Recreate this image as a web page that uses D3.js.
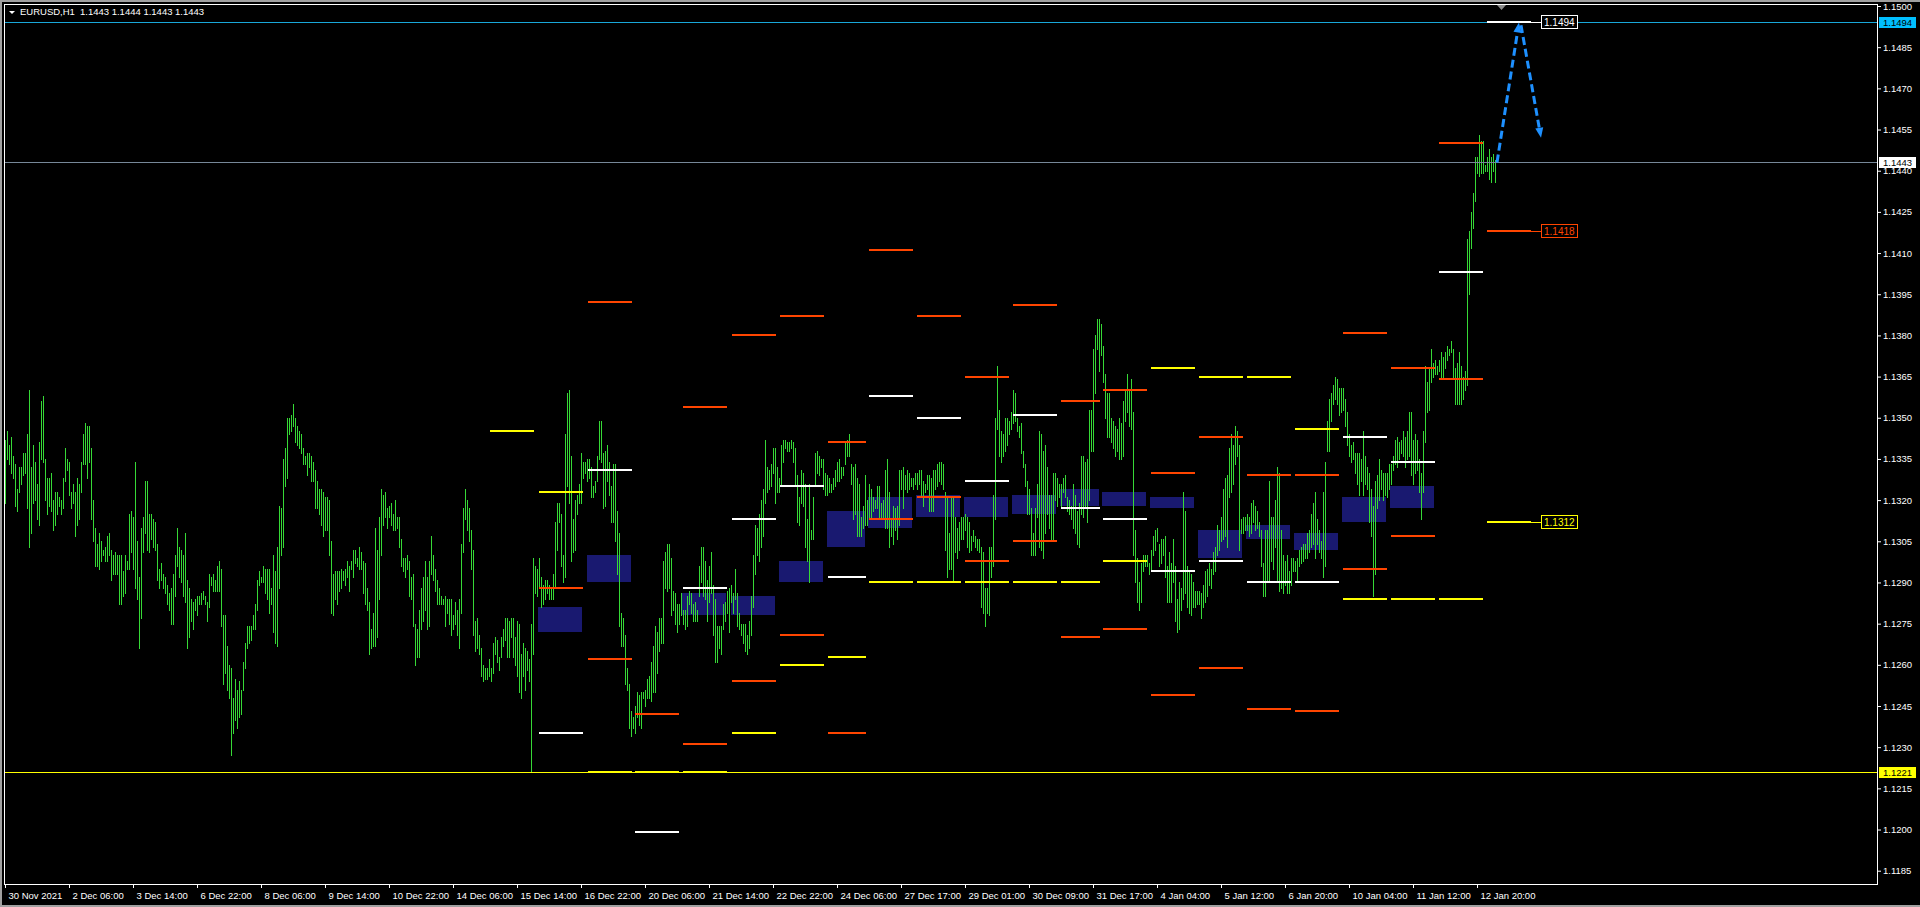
<!DOCTYPE html>
<html><head><meta charset="utf-8">
<script src="https://cdn.jsdelivr.net/npm/d3@7"></script>
<style>html,body{margin:0;padding:0;background:#000;overflow:hidden}svg{display:block}</style>
</head><body><svg id="chart" width="1920" height="907"></svg>
<script>
// ---------- DATA ----------
const symbolTitle = "EURUSD,H1";
const lastQuote = "1.1443 1.1444 1.1443 1.1443";

const xTickBars = [0,32,64,96,128,160,192,224,256,288,320,352,384,416,448,480,512,544,576,608,640,672,704,736];
const xTickLabels = ["30 Nov 2021","2 Dec 06:00","3 Dec 14:00","6 Dec 22:00","8 Dec 06:00","9 Dec 14:00","10 Dec 22:00","14 Dec 06:00","15 Dec 14:00","16 Dec 22:00","20 Dec 06:00","21 Dec 14:00","22 Dec 22:00","24 Dec 06:00","27 Dec 17:00","29 Dec 01:00","30 Dec 09:00","31 Dec 17:00","4 Jan 04:00","5 Jan 12:00","6 Jan 20:00","10 Jan 04:00","11 Jan 12:00","12 Jan 20:00"];
const yTicks = [1.1185,1.1200,1.1215,1.1230,1.1245,1.1260,1.1275,1.1290,1.1305,1.1320,1.1335,1.1350,1.1365,1.1380,1.1395,1.1410,1.1425,1.1440,1.1455,1.1470,1.1485,1.1500];

// hourly bar highs / lows
const highs = [
1.1342,1.1345,1.1340,1.1343,1.1336,1.1333,1.1324,1.1332,1.1332,1.1337,
1.1337,1.1344,1.1360,1.1332,1.1340,1.1334,1.1326,1.1341,1.1356,1.1358,
1.1335,1.1328,1.1328,1.1330,1.1320,1.1323,1.1323,1.1321,1.1320,1.1328,
1.1339,1.1335,1.1334,1.1323,1.1326,1.1323,1.1328,1.1326,1.1334,1.1344,
1.1348,1.1347,1.1347,1.1339,1.1320,1.1310,1.1304,1.1308,1.1305,1.1302,
1.1303,1.1307,1.1308,1.1302,1.1300,1.1301,1.1300,1.1300,1.1300,1.1294,
1.1300,1.1298,1.1315,1.1316,1.1314,1.1334,1.1305,1.1292,1.1310,1.1314,
1.1327,1.1327,1.1315,1.1315,1.1313,1.1312,1.1304,1.1295,1.1297,1.1293,
1.1292,1.1289,1.1286,1.1288,1.1293,1.1300,1.1310,1.1303,1.1302,1.1300,
1.1308,1.1291,1.1288,1.1284,1.1283,1.1284,1.1285,1.1285,1.1286,1.1287,
1.1285,1.1283,1.1293,1.1292,1.1293,1.1291,1.1296,1.1298,1.1295,1.1278,
1.1278,1.1267,1.1260,1.1259,1.1248,1.1255,1.1251,1.1254,1.1251,1.1261,
1.1268,1.1274,1.1274,1.1274,1.1278,1.1282,1.1291,1.1294,1.1292,1.1296,
1.1295,1.1295,1.1295,1.1288,1.1300,1.1294,1.1303,1.1318,1.1317,1.1335,
1.1339,1.1350,1.1350,1.1351,1.1355,1.1350,1.1347,1.1345,1.1344,1.1339,
1.1336,1.1337,1.1337,1.1336,1.1334,1.1331,1.1327,1.1324,1.1324,1.1323,
1.1321,1.1321,1.1320,1.1305,1.1293,1.1294,1.1294,1.1294,1.1295,1.1294,
1.1295,1.1298,1.1296,1.1298,1.1302,1.1302,1.1299,1.1303,1.1301,1.1298,
1.1297,1.1288,1.1283,1.1273,1.1279,1.1310,1.1302,1.1314,1.1324,1.1322,
1.1323,1.1317,1.1318,1.1319,1.1315,1.1320,1.1314,1.1314,1.1306,1.1299,
1.1299,1.1300,1.1298,1.1292,1.1293,1.1275,1.1273,1.1280,1.1288,1.1292,
1.1298,1.1292,1.1298,1.1307,1.1300,1.1295,1.1291,1.1288,1.1285,1.1284,
1.1285,1.1284,1.1284,1.1284,1.1278,1.1283,1.1280,1.1284,1.1304,1.1317,
1.1324,1.1320,1.1317,1.1309,1.1302,1.1276,1.1277,1.1271,1.1266,1.1260,
1.1259,1.1259,1.1262,1.1259,1.1268,1.1270,1.1269,1.1263,1.1270,1.1273,
1.1277,1.1277,1.1276,1.1277,1.1277,1.1270,1.1276,1.1275,1.1264,1.1268,
1.1266,1.1265,1.1262,1.1275,1.1299,1.1296,1.1295,1.1299,1.1292,1.1289,
1.1291,1.1291,1.1289,1.1288,1.1293,1.1312,1.1319,1.1319,1.1315,1.1300,
1.1344,1.1359,1.1360,1.1336,1.1313,1.1320,1.1322,1.1326,1.1337,1.1334,
1.1334,1.1335,1.1335,1.1332,1.1325,1.1327,1.1336,1.1349,1.1349,1.1337,
1.1338,1.1340,1.1334,1.1325,1.1333,1.1333,1.1316,1.1308,1.1279,1.1277,
1.1271,1.1259,1.1253,1.1243,1.1241,1.1245,1.1250,1.1249,1.1250,1.1250,
1.1251,1.1255,1.1256,1.1261,1.1267,1.1274,1.1272,1.1277,1.1277,1.1298,
1.1301,1.1304,1.1304,1.1299,1.1287,1.1286,1.1282,1.1282,1.1286,1.1280,
1.1280,1.1285,1.1287,1.1286,1.1282,1.1283,1.1280,1.1296,1.1303,1.1303,
1.1298,1.1291,1.1296,1.1301,1.1289,1.1284,1.1274,1.1274,1.1274,1.1282,
1.1283,1.1287,1.1288,1.1289,1.1286,1.1295,1.1286,1.1279,1.1275,1.1275,
1.1275,1.1271,1.1276,1.1285,1.1300,1.1311,1.1310,1.1315,1.1320,1.1324,
1.1342,1.1332,1.1331,1.1333,1.1339,1.1339,1.1332,1.1328,1.1340,1.1342,
1.1342,1.1341,1.1341,1.1342,1.1341,1.1339,1.1329,1.1321,1.1331,1.1330,
1.1326,1.1313,1.1326,1.1309,1.1321,1.1337,1.1338,1.1336,1.1335,1.1335,
1.1330,1.1329,1.1328,1.1326,1.1328,1.1331,1.1334,1.1335,1.1332,1.1332,
1.1341,1.1342,1.1344,1.1333,1.1332,1.1333,1.1328,1.1326,1.1314,1.1318,
1.1329,1.1320,1.1326,1.1324,1.1321,1.1320,1.1325,1.1325,1.1319,1.1320,
1.1331,1.1335,1.1323,1.1313,1.1318,1.1317,1.1318,1.1331,1.1331,1.1332,
1.1329,1.1331,1.1330,1.1328,1.1328,1.1330,1.1330,1.1331,1.1331,1.1327,
1.1326,1.1329,1.1329,1.1328,1.1331,1.1331,1.1333,1.1334,1.1334,1.1333,
1.1323,1.1321,1.1308,1.1321,1.1321,1.1314,1.1310,1.1312,1.1314,1.1314,
1.1315,1.1314,1.1312,1.1307,1.1309,1.1307,1.1306,1.1306,1.1303,1.1301,
1.1288,1.1288,1.1303,1.1303,1.1322,1.1350,1.1369,1.1353,1.1345,1.1344,
1.1350,1.1350,1.1349,1.1352,1.1360,1.1359,1.1350,1.1347,1.1348,1.1338,
1.1333,1.1327,1.1324,1.1317,1.1308,1.1317,1.1326,1.1345,1.1344,1.1338,
1.1340,1.1332,1.1322,1.1322,1.1330,1.1330,1.1328,1.1326,1.1326,1.1328,
1.1329,1.1321,1.1320,1.1318,1.1326,1.1322,1.1316,1.1319,1.1336,1.1336,
1.1334,1.1335,1.1353,1.1353,1.1375,1.1380,1.1386,1.1386,1.1384,1.1376,
1.1366,1.1359,1.1359,1.1350,1.1349,1.1347,1.1346,1.1350,1.1348,1.1356,
1.1360,1.1366,1.1360,1.1364,1.1352,1.1309,1.1299,1.1290,1.1297,1.1300,
1.1300,1.1300,1.1297,1.1302,1.1307,1.1309,1.1310,1.1304,1.1306,1.1306,
1.1307,1.1296,1.1301,1.1297,1.1306,1.1296,1.1284,1.1290,1.1288,1.1323,
1.1316,1.1296,1.1294,1.1293,1.1290,1.1287,1.1287,1.1287,1.1286,1.1289,
1.1294,1.1295,1.1297,1.1295,1.1301,1.1303,1.1311,1.1309,1.1314,1.1324,
1.1328,1.1329,1.1339,1.1344,1.1340,1.1347,1.1345,1.1340,1.1313,1.1314,
1.1314,1.1315,1.1314,1.1319,1.1320,1.1318,1.1316,1.1312,1.1309,1.1297,
1.1309,1.1309,1.1327,1.1314,1.1314,1.1320,1.1332,1.1330,1.1309,1.1300,
1.1298,1.1300,1.1294,1.1299,1.1299,1.1298,1.1299,1.1302,1.1303,1.1304,
1.1304,1.1308,1.1309,1.1315,1.1319,1.1323,1.1313,1.1309,1.1305,1.1323,
1.1334,1.1349,1.1357,1.1359,1.1362,1.1365,1.1364,1.1361,1.1361,1.1361,
1.1357,1.1352,1.1344,1.1340,1.1341,1.1337,1.1337,1.1337,1.1335,1.1345,
1.1336,1.1332,1.1330,1.1324,1.1318,1.1327,1.1329,1.1335,1.1331,1.1330,
1.1330,1.1330,1.1333,1.1333,1.1336,1.1342,1.1343,1.1341,1.1342,1.1345,
1.1343,1.1345,1.1352,1.1352,1.1342,1.1344,1.1342,1.1335,1.1330,1.1345,
1.1369,1.1363,1.1368,1.1375,1.1370,1.1371,1.1369,1.1371,1.1374,1.1372,
1.1374,1.1376,1.1375,1.1378,1.1375,1.1368,1.1370,1.1374,1.1369,1.1365,
1.1367,1.1415,1.1418,1.1425,1.1432,1.1445,1.1445,1.1453,1.1451,1.1451,
1.1442,1.1445,1.1448,1.1445,1.1446,1.1444];

const lows = [
1.1319,1.1335,1.1333,1.1330,1.1328,1.1318,1.1316,1.1323,1.1326,1.1329,
1.1330,1.1317,1.1303,1.1308,1.1319,1.1320,1.1313,1.1311,1.1335,1.1334,
1.1320,1.1315,1.1318,1.1316,1.1309,1.1311,1.1315,1.1318,1.1315,1.1317,
1.1327,1.1331,1.1322,1.1317,1.1319,1.1307,1.1311,1.1313,1.1323,1.1333,
1.1333,1.1328,1.1334,1.1313,1.1305,1.1296,1.1296,1.1295,1.1298,1.1300,
1.1298,1.1298,1.1300,1.1291,1.1293,1.1293,1.1293,1.1282,1.1282,1.1285,
1.1286,1.1295,1.1295,1.1301,1.1295,1.1288,1.1284,1.1266,1.1277,1.1301,
1.1308,1.1302,1.1301,1.1306,1.1303,1.1302,1.1291,1.1288,1.1291,1.1288,
1.1286,1.1282,1.1280,1.1275,1.1275,1.1285,1.1296,1.1292,1.1290,1.1285,
1.1283,1.1266,1.1270,1.1276,1.1273,1.1280,1.1278,1.1282,1.1282,1.1284,
1.1282,1.1276,1.1281,1.1289,1.1287,1.1287,1.1287,1.1287,1.1274,1.1253,
1.1257,1.1251,1.1248,1.1227,1.1235,1.1240,1.1237,1.1241,1.1242,1.1251,
1.1259,1.1266,1.1268,1.1269,1.1273,1.1273,1.1280,1.1289,1.1290,1.1290,
1.1286,1.1284,1.1279,1.1282,1.1272,1.1268,1.1267,1.1288,1.1300,1.1303,
1.1325,1.1328,1.1344,1.1345,1.1347,1.1341,1.1340,1.1339,1.1337,1.1333,
1.1333,1.1329,1.1332,1.1327,1.1327,1.1317,1.1317,1.1315,1.1311,1.1307,
1.1309,1.1309,1.1300,1.1279,1.1278,1.1284,1.1282,1.1287,1.1288,1.1291,
1.1289,1.1292,1.1287,1.1295,1.1292,1.1297,1.1296,1.1295,1.1295,1.1286,
1.1282,1.1280,1.1264,1.1266,1.1267,1.1267,1.1270,1.1284,1.1300,1.1311,
1.1314,1.1310,1.1314,1.1311,1.1309,1.1309,1.1310,1.1303,1.1296,1.1294,
1.1292,1.1295,1.1285,1.1284,1.1274,1.1260,1.1263,1.1263,1.1273,1.1276,
1.1280,1.1273,1.1274,1.1293,1.1291,1.1287,1.1282,1.1282,1.1282,1.1282,
1.1274,1.1279,1.1275,1.1271,1.1273,1.1275,1.1271,1.1266,1.1279,1.1301,
1.1313,1.1309,1.1305,1.1295,1.1271,1.1265,1.1266,1.1264,1.1256,1.1254,
1.1255,1.1255,1.1256,1.1254,1.1257,1.1264,1.1261,1.1258,1.1263,1.1267,
1.1269,1.1263,1.1263,1.1270,1.1263,1.1260,1.1256,1.1250,1.1248,1.1256,
1.1251,1.1258,1.1254,1.1221,1.1264,1.1286,1.1285,1.1288,1.1281,1.1282,
1.1284,1.1286,1.1284,1.1284,1.1284,1.1288,1.1302,1.1312,1.1296,1.1290,
1.1292,1.1325,1.1319,1.1298,1.1301,1.1302,1.1315,1.1319,1.1319,1.1328,
1.1330,1.1327,1.1328,1.1321,1.1321,1.1323,1.1327,1.1335,1.1334,1.1317,
1.1318,1.1327,1.1322,1.1312,1.1312,1.1305,1.1293,1.1274,1.1267,1.1267,
1.1253,1.1251,1.1237,1.1234,1.1237,1.1235,1.1241,1.1238,1.1237,1.1248,
1.1245,1.1248,1.1248,1.1247,1.1250,1.1250,1.1257,1.1265,1.1268,1.1268,
1.1288,1.1287,1.1288,1.1278,1.1280,1.1275,1.1272,1.1275,1.1278,1.1275,
1.1273,1.1274,1.1282,1.1279,1.1276,1.1276,1.1276,1.1285,1.1290,1.1285,
1.1284,1.1276,1.1283,1.1286,1.1271,1.1261,1.1261,1.1266,1.1264,1.1273,
1.1276,1.1279,1.1272,1.1283,1.1279,1.1284,1.1274,1.1273,1.1271,1.1268,
1.1265,1.1264,1.1266,1.1271,1.1281,1.1293,1.1300,1.1298,1.1303,1.1307,
1.1319,1.1323,1.1324,1.1325,1.1330,1.1319,1.1323,1.1323,1.1326,1.1334,
1.1339,1.1338,1.1338,1.1339,1.1334,1.1326,1.1312,1.1311,1.1319,1.1318,
1.1303,1.1298,1.1290,1.1306,1.1306,1.1325,1.1330,1.1329,1.1332,1.1324,
1.1322,1.1322,1.1323,1.1323,1.1324,1.1325,1.1327,1.1327,1.1328,1.1329,
1.1333,1.1336,1.1336,1.1326,1.1313,1.1315,1.1307,1.1307,1.1307,1.1310,
1.1311,1.1311,1.1314,1.1314,1.1316,1.1317,1.1317,1.1314,1.1314,1.1313,
1.1310,1.1310,1.1303,1.1307,1.1304,1.1309,1.1306,1.1311,1.1324,1.1317,
1.1324,1.1323,1.1324,1.1325,1.1324,1.1326,1.1324,1.1326,1.1321,1.1318,
1.1323,1.1324,1.1316,1.1316,1.1316,1.1324,1.1325,1.1327,1.1326,1.1324,
1.1302,1.1292,1.1295,1.1295,1.1290,1.1301,1.1299,1.1302,1.1306,1.1306,
1.1309,1.1303,1.1301,1.1302,1.1305,1.1303,1.1302,1.1301,1.1281,1.1279,
1.1274,1.1279,1.1278,1.1292,1.1296,1.1313,1.1346,1.1336,1.1334,1.1336,
1.1338,1.1340,1.1344,1.1346,1.1348,1.1349,1.1345,1.1343,1.1337,1.1332,
1.1325,1.1315,1.1315,1.1300,1.1300,1.1300,1.1314,1.1303,1.1302,1.1299,
1.1308,1.1315,1.1310,1.1305,1.1305,1.1320,1.1318,1.1321,1.1318,1.1323,
1.1321,1.1316,1.1315,1.1313,1.1310,1.1308,1.1304,1.1303,1.1315,1.1314,
1.1318,1.1312,1.1320,1.1338,1.1338,1.1359,1.1375,1.1367,1.1373,1.1363,
1.1350,1.1343,1.1343,1.1341,1.1339,1.1336,1.1338,1.1335,1.1335,1.1336,
1.1349,1.1352,1.1347,1.1346,1.1300,1.1290,1.1283,1.1280,1.1283,1.1294,
1.1296,1.1296,1.1293,1.1295,1.1300,1.1302,1.1305,1.1296,1.1297,1.1300,
1.1292,1.1283,1.1283,1.1283,1.1290,1.1276,1.1272,1.1273,1.1280,1.1284,
1.1286,1.1281,1.1279,1.1278,1.1281,1.1281,1.1282,1.1282,1.1277,1.1281,
1.1283,1.1285,1.1289,1.1288,1.1293,1.1294,1.1300,1.1302,1.1305,1.1306,
1.1307,1.1303,1.1321,1.1323,1.1326,1.1333,1.1336,1.1302,1.1308,1.1308,
1.1309,1.1309,1.1307,1.1308,1.1312,1.1309,1.1310,1.1307,1.1296,1.1285,
1.1285,1.1290,1.1291,1.1298,1.1295,1.1303,1.1290,1.1287,1.1288,1.1286,
1.1289,1.1286,1.1286,1.1289,1.1294,1.1294,1.1290,1.1296,1.1297,1.1298,
1.1299,1.1299,1.1301,1.1303,1.1304,1.1299,1.1304,1.1301,1.1299,1.1292,
1.1296,1.1338,1.1338,1.1349,1.1355,1.1357,1.1355,1.1351,1.1352,1.1353,
1.1347,1.1340,1.1336,1.1334,1.1335,1.1330,1.1326,1.1322,1.1327,1.1322,
1.1326,1.1324,1.1312,1.1307,1.1285,1.1293,1.1317,1.1320,1.1324,1.1320,
1.1322,1.1321,1.1324,1.1326,1.1331,1.1333,1.1332,1.1335,1.1337,1.1336,
1.1332,1.1335,1.1336,1.1329,1.1326,1.1330,1.1331,1.1323,1.1313,1.1323,
1.1341,1.1352,1.1353,1.1363,1.1365,1.1366,1.1366,1.1367,1.1365,1.1365,
1.1368,1.1371,1.1373,1.1374,1.1365,1.1355,1.1355,1.1355,1.1355,1.1357,
1.1360,1.1362,1.1395,1.1412,1.1419,1.1429,1.1439,1.1438,1.1439,1.1439,
1.1440,1.1440,1.1437,1.1436,1.1440,1.1436];

// daily level objects: bar index where each day's objects start / end
const dayStart = [242.5,267,291.5,315,339,363.5,387.5,411.5,432,456,480,504,528,549,573,597,621,645,669,693,717,741];
const dayEnd   = [264.5,289,313.5,337,361,385.5,409.5,430.5,454,478,502,526,547.5,571,595,619,643,667,691,715,739,763];

// [day, top price, bottom price]
const zones = [[1,1.1281,1.1272],[2,1.1300,1.1290],[4,1.1286,1.1278],[5,1.1285,1.1278],[6,1.1298,1.1290],[7,1.1316,1.1303],[8,1.1321,1.1310],[9,1.1322,1.1314],[10,1.1321,1.1314],[11,1.1322,1.1315],[12,1.1324,1.1318],[13,1.1323,1.1318],[14,1.1321,1.1317],[15,1.1309,1.1299],[16,1.1311,1.1306],[17,1.1308,1.1302],[18,1.1321,1.1312],[19,1.1325,1.1317]];
// [day, price]
const orangeLevels = [[1,1.1288],[2,1.1392],[2,1.1262],[3,1.1242],[4,1.1354],[4,1.1231],[5,1.1380],[5,1.1254],[6,1.1387],[6,1.1271],[7,1.1341],[7,1.1235],[8,1.1411],[8,1.1313],[9,1.1387],[9,1.1321],[10,1.1365],[10,1.1298],[11,1.1391],[11,1.1305],[12,1.1356],[12,1.1270],[13,1.1360],[13,1.1273],[14,1.1330],[14,1.1249],[15,1.1343],[15,1.1259],[16,1.1329],[16,1.1244],[17,1.1329],[17,1.1243],[18,1.1381],[18,1.1295],[19,1.1368],[19,1.1307],[20,1.1450],[20,1.1364],[21,1.1418]];
const whiteLevels = [[1,1.1235],[2,1.1331],[3,1.1199],[4,1.1288],[5,1.1313],[6,1.1325],[7,1.1292],[8,1.1358],[9,1.1350],[10,1.1327],[11,1.1351],[12,1.1317],[13,1.1313],[14,1.1294],[15,1.1298],[16,1.1290],[17,1.1290],[18,1.1343],[19,1.1334],[20,1.1403],[21,1.1494]];
const yellowLevels = [[0,1.1345],[1,1.1323],[2,1.1221],[3,1.1221],[4,1.1221],[5,1.1235],[6,1.1260],[7,1.1263],[8,1.1290],[9,1.1290],[10,1.1290],[11,1.1290],[12,1.1290],[13,1.1298],[14,1.1368],[15,1.1365],[16,1.1365],[17,1.1346],[18,1.1284],[19,1.1284],[20,1.1284],[21,1.1312]];

// labelled levels of the current day
const levelLabels = [[1.1494,"#ffffff"],[1.1418,"#ff4500"],[1.1312,"#ffff00"]];
// full-width horizontal lines
const hLines = [[1.1494,"#19a7d8"],[1.1443,"#778899"],[1.1221,"#ffff00"]];
// price tags on the right axis
const axisTags = [[1.1494,"#00bfff"],[1.1443,"#ffffff"],[1.1221,"#ffff00"]];
// projected path arrows [bar, price]
const arrowUp = [[746,1.1443],[757,1.1494]];
const arrowDown = [[758,1.1493],[768,1.1452]];

// ---------- DRAW ----------
const FONT = '"Liberation Sans", Arial, sans-serif';
const FS = 9.5;
const plotL = 4, plotT = 4, plotR = 1877, plotB = 884;
const x = d3.scaleLinear().domain([0, 935.5]).range([5, 1876]);
const y = d3.scaleLinear().domain([1.1185, 1.1500]).range([870.7, 6]);
const px = b => Math.round(x(b));
const py = p => Math.round(y(p));

const svg = d3.select('#chart');
svg.append('rect').attr('width',1920).attr('height',907).attr('fill','#000');
svg.append('rect').attr('x',0).attr('y',0).attr('width',1920).attr('height',2).attr('fill','#a0a0a0');
svg.append('rect').attr('x',0).attr('y',0).attr('width',2).attr('height',907).attr('fill','#a0a0a0');
svg.append('rect').attr('x',0).attr('y',905).attr('width',1920).attr('height',2).attr('fill','#a0a0a0');

svg.append('defs').append('clipPath').attr('id','pc').append('rect')
  .attr('x',plotL+1).attr('y',plotT+1).attr('width',plotR-plotL-1).attr('height',plotB-plotT-1);
const g = svg.append('g').attr('clip-path','url(#pc)').attr('shape-rendering','crispEdges');

// zones
g.append('g').selectAll('rect').data(zones).join('rect')
  .attr('x', d => px(dayStart[d[0]]) - 1)
  .attr('width', d => px(dayEnd[d[0]]) - px(dayStart[d[0]]))
  .attr('y', d => py(d[1]))
  .attr('height', d => Math.max(1, py(d[2]) - py(d[1])))
  .attr('fill', '#191970');

// bars
const bars = highs.map((h, i) => ({i, h, l: lows[i]}));
g.append('g').selectAll('line').data(bars).join('line')
  .attr('x1', d => px(d.i) + 0.5).attr('x2', d => px(d.i) + 0.5)
  .attr('y1', d => py(d.h))
  .attr('y2', d => Math.max(py(d.l) + 1, py(d.h) + 2))
  .attr('stroke', '#36d936').attr('stroke-width', 1);

// horizontal lines
g.append('g').selectAll('line').data(hLines).join('line')
  .attr('x1', plotL).attr('x2', plotR)
  .attr('y1', d => py(d[0]) + 0.5).attr('y2', d => py(d[0]) + 0.5)
  .attr('stroke', d => d[1]).attr('stroke-width', 1);

// level segments
function drawLevels(data, color) {
  g.append('g').selectAll('rect').data(data).join('rect')
    .attr('x', d => px(dayStart[d[0]]))
    .attr('width', d => px(dayEnd[d[0]]) - px(dayStart[d[0]]))
    .attr('y', d => py(d[1]) - 1)
    .attr('height', 2)
    .attr('fill', color);
}
drawLevels(yellowLevels, '#ffff00');
drawLevels(orangeLevels, '#ff4500');
drawLevels(whiteLevels, '#ffffff');

// labelled levels
const lastDay = dayStart.length - 1;
const lbl = g.append('g');
levelLabels.forEach(([p, c]) => {
  const yy = py(p);
  const x0 = px(dayEnd[lastDay]);
  lbl.append('line').attr('x1', x0).attr('x2', x0 + 10).attr('y1', yy + 0.5).attr('y2', yy + 0.5)
    .attr('stroke', c).attr('stroke-width', 1);
  lbl.append('rect').attr('x', x0 + 10.5).attr('y', yy - 6.5).attr('width', 36).attr('height', 13)
    .attr('fill', '#000').attr('stroke', c).attr('stroke-width', 1);
  lbl.append('text').attr('x', x0 + 13).attr('y', yy + 4).text(d3.format('.4f')(p))
    .attr('fill', c).style('font-family', FONT).style('font-size', (FS+0.5) + 'px');
});

// arrows
function drawArrow(pts) {
  const p0 = [x(pts[0][0]), y(pts[0][1])], p1 = [x(pts[1][0]), y(pts[1][1])];
  const dx = p1[0] - p0[0], dy = p1[1] - p0[1], L = Math.hypot(dx, dy);
  const ux = dx / L, uy = dy / L, hl = 10, hw = 4;
  const bx = p1[0] - ux * hl, by = p1[1] - uy * hl;
  svg.append('line').attr('x1', p0[0]).attr('y1', p0[1]).attr('x2', bx).attr('y2', by)
    .attr('stroke', '#1e90ff').attr('stroke-width', 3).attr('stroke-dasharray', '8,4');
  svg.append('polygon')
    .attr('points', [[p1[0], p1[1]], [bx - uy * hw, by + ux * hw], [bx + uy * hw, by - ux * hw]].map(q => q.join(',')).join(' '))
    .attr('fill', '#1e90ff');
}
drawArrow(arrowUp);
drawArrow(arrowDown);

// frame
svg.append('rect').attr('x', plotL + 0.5).attr('y', plotT + 0.5)
  .attr('width', plotR - plotL).attr('height', plotB - plotT)
  .attr('fill', 'none').attr('stroke', '#ffffff').attr('stroke-width', 1).attr('shape-rendering','crispEdges');

// chart shift marker
svg.append('polygon').attr('points', '1497,5 1506,5 1501.5,10').attr('fill', '#8a8a8a');

// y axis
const ya = svg.append('g').attr('transform', `translate(${plotR},0)`)
  .call(d3.axisRight(y).tickValues(yTicks).tickFormat(d3.format('.4f')).tickSize(4).tickSizeOuter(0));
ya.select('.domain').remove();
ya.selectAll('line').attr('stroke', '#fff');
ya.selectAll('text').attr('fill', '#fff').attr('x', 6).style('font-family', FONT).style('font-size', FS + 'px');

// axis tags
axisTags.forEach(([p, c]) => {
  const yy = py(p);
  svg.append('rect').attr('x', plotR + 2).attr('y', yy - 5).attr('width', 37).attr('height', 11).attr('fill', c);
  svg.append('text').attr('x', plotR + 6).attr('y', yy + 4).text(d3.format('.4f')(p))
    .attr('fill', '#000').style('font-family', FONT).style('font-size', FS + 'px');
});

// x axis
const xa = svg.append('g').attr('transform', `translate(0,${plotB})`)
  .call(d3.axisBottom(x).tickValues(xTickBars).tickFormat((d, i) => xTickLabels[i]).tickSize(4).tickSizeOuter(0));
xa.select('.domain').remove();
xa.selectAll('line').attr('stroke', '#fff');
xa.selectAll('text').attr('fill', '#fff').attr('text-anchor', 'start').attr('x', 3).attr('y', 8)
  .style('font-family', FONT).style('font-size', FS + 'px');

// header
svg.append('polygon').attr('points', '9,11 15,11 12,14').attr('fill', '#fff');
svg.append('text').attr('x', 20).attr('y', 15).text(symbolTitle).attr('fill', '#fff')
  .style('font-family', FONT).style('font-size', FS + 'px');
svg.append('text').attr('x', 80).attr('y', 15).text(lastQuote).attr('fill', '#fff')
  .style('font-family', FONT).style('font-size', FS + 'px');
</script>
</body></html>
